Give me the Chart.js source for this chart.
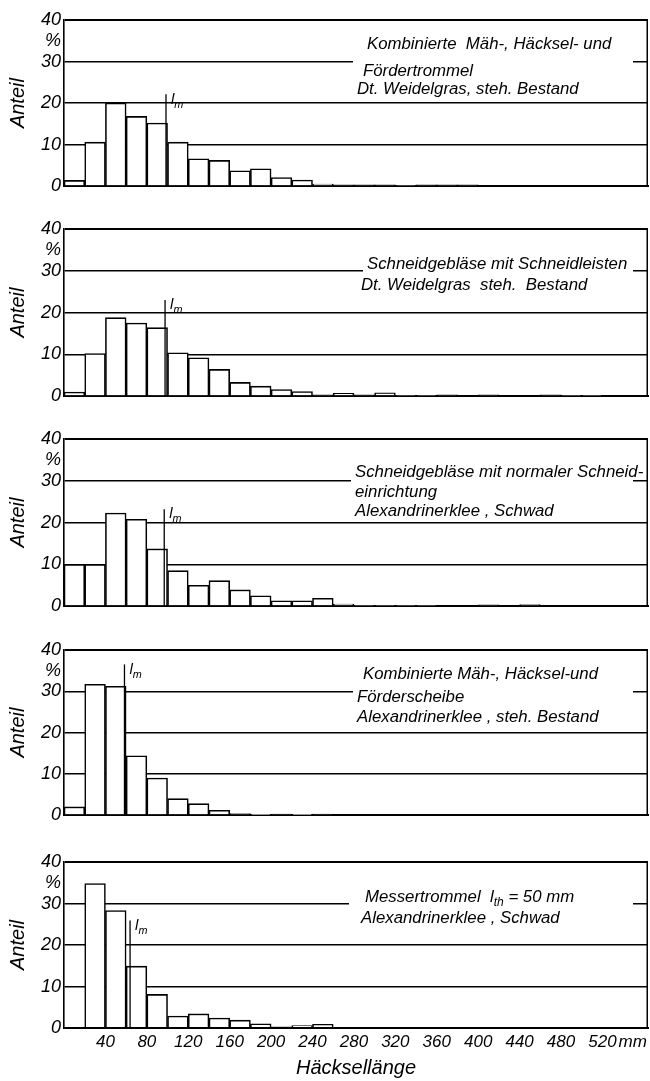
<!DOCTYPE html>
<html>
<head>
<meta charset="utf-8">
<script src="https://cdn.jsdelivr.net/npm/chart.js@4.4.1/dist/chart.umd.min.js"></script>
<style>
html, body { margin: 0; padding: 0; background: #fff; }
#wrap { position: relative; width: 650px; height: 1081px; }
#wrap canvas { position: absolute; left: 0; }
</style>
</head>
<body>
<div id="wrap">
  <canvas id="p1" width="650" height="195" style="top:5px"></canvas>
  <canvas id="p2" width="650" height="196" style="top:214px"></canvas>
  <canvas id="p3" width="650" height="196" style="top:424px"></canvas>
  <canvas id="p4" width="650" height="194" style="top:635px"></canvas>
  <canvas id="p5" width="650" height="234" style="top:847px"></canvas>
</div>
<script>
// Häcksellänge classes of 20 mm, value = class centre
let binMid = [10, 30, 50, 70, 90, 110, 130, 150, 170, 190, 210, 230, 250, 270,
              290, 310, 330, 350, 370, 390, 410, 430, 450, 470, 490, 510, 530, 550];
let xTicks = [40, 80, 120, 160, 200, 240, 280, 320, 360, 400, 440, 480, 520];
let yTicks = [0, 10, 20, 30, 35, 40];

// Anteil in %
let anteil1 = [1.4, 10.6, 20.0, 16.8, 15.2, 10.6, 6.6, 6.2, 3.7, 4.2, 2.1, 1.5, 0.5, 0.3,
               0.3, 0.3, 0.2, 0.3, 0.3, 0.3, 0, 0, 0, 0, 0, 0, 0, 0];
let anteil2 = [1.0, 10.2, 18.8, 17.5, 16.4, 10.4, 9.2, 6.4, 3.3, 2.4, 1.6, 1.1, 0.3, 0.7,
               0.3, 0.8, 0.2, 0.2, 0.3, 0, 0.3, 0, 0, 0.3, 0.2, 0.2, 0, 0];
let anteil3 = [10.0, 10.0, 22.3, 20.8, 13.7, 8.5, 5.0, 6.1, 3.9, 2.5, 1.3, 1.3, 1.9, 0.5,
               0.2, 0.2, 0.2, 0.2, 0, 0, 0.3, 0, 0.4, 0, 0, 0, 0, 0];
let anteil4 = [2.0, 31.7, 31.2, 14.4, 9.0, 4.0, 2.8, 1.2, 0.4, 0.1, 0.3, 0.1, 0.3, 0,
               0, 0, 0, 0, 0, 0, 0, 0, 0, 0, 0, 0, 0, 0];
let anteil5 = [0, 34.8, 28.3, 14.9, 8.1, 2.9, 3.4, 2.4, 1.9, 1.0, 0.3, 0.6, 0.9, 0,
               0, 0, 0, 0, 0, 0, 0, 0, 0, 0, 0, 0, 0, 0];

// mittlere Häcksellänge l_m in mm
let lm = [98.5, 97.6, 96.8, 58.4, 63.8];

let notes1 = ['Kombinierte  Mäh-, Häcksel- und', 'Fördertrommel', 'Dt. Weidelgras, steh. Bestand'];
let notes2 = ['Schneidgebläse mit Schneidleisten', 'Dt. Weidelgras  steh.  Bestand'];
let notes3 = ['Schneidgebläse mit normaler Schneid-', 'einrichtung', 'Alexandrinerklee , Schwad'];
let notes4 = ['Kombinierte Mäh-, Häcksel-und', 'Förderscheibe', 'Alexandrinerklee , steh. Bestand'];
let notes5 = [[{ t: 'Messertrommel  l' }, { t: 'th', sub: true }, { t: ' = 50 mm' }], 'Alexandrinerklee , Schwad'];

const FAM = "'Liberation Sans', 'DejaVu Sans', sans-serif";
Chart.defaults.font.family = FAM;
Chart.defaults.color = '#000';

// page layout of each panel (canvas top, note positions)
const canvasTop = [5, 214, 424, 635, 847];
const noteX = [[367, 363, 357], [367, 361], [355, 355, 355], [363, 357, 357], [365, 361]];
const noteY = [[44, 71, 89], [264, 285], [472, 492, 511], [674, 697, 717], [897, 918]];
const boxLeft = [353, 363, 351, 353, 349];
const boxRight = 633;
const lmReach = [22.1, 23, 23.2, 36.5, 25.9];

function drawRich(ctx, line, x, y, size) {
  const segs = typeof line === 'string' ? [{ t: line }] : line;
  segs.forEach(s => {
    const fs = s.sub ? size * 0.72 : size;
    ctx.font = 'italic ' + fs + 'px ' + FAM;
    ctx.fillText(s.t, x, s.sub ? y + size * 0.35 : y);
    x += ctx.measureText(s.t).width;
  });
}

const deco = {
  id: 'panelDeco',
  afterDatasetsDraw(chart, args, opts) {
    const ctx = chart.ctx;
    const area = chart.chartArea;
    const xs = chart.scales.x, ys = chart.scales.y;
    const i = opts.idx;
    const off = canvasTop[i];
    ctx.save();
    // right frame line
    ctx.strokeStyle = '#000';
    ctx.lineWidth = 1.5;
    ctx.beginPath();
    ctx.moveTo(area.right - 0.75, area.top);
    ctx.lineTo(area.right - 0.75, area.bottom);
    ctx.stroke();
    // l_m marker
    const lx = xs.getPixelForValue(lm[i]);
    const ly = ys.getPixelForValue(lmReach[i]);
    ctx.lineWidth = 1.3;
    ctx.beginPath();
    ctx.moveTo(lx, ys.getPixelForValue(0));
    ctx.lineTo(lx, ly);
    ctx.stroke();
    ctx.fillStyle = '#000';
    ctx.textBaseline = 'middle';
    ctx.textAlign = 'left';
    drawRich(ctx, [{ t: 'l' }, { t: 'm', sub: true }], lx + 5, ly + 5, 15);
    // note block with white ground
    const ys0 = noteY[i][0] - off - 11;
    const ys1 = noteY[i][noteY[i].length - 1] - off + 11;
    ctx.fillStyle = '#fff';
    ctx.fillRect(boxLeft[i], ys0, boxRight - boxLeft[i], ys1 - ys0);
    ctx.fillStyle = '#000';
    opts.notes.forEach((line, k) => drawRich(ctx, line, noteX[i][k], noteY[i][k] - off, 16.8));
    // unit after last tick label
    if (i === 4) {
      ctx.font = 'italic 17px ' + FAM;
      const px = xs.getPixelForValue(520) + ctx.measureText('520').width / 2 + 2;
      ctx.fillText('mm', px, 1042 - off);
    }
    ctx.restore();
  }
};

function makePanel(id, values, notes, idx) {
  const last = idx === 4;
  return new Chart(document.getElementById(id), {
    type: 'bar',
    data: {
      labels: binMid,
      datasets: [{
        data: values,
        backgroundColor: '#fff',
        borderColor: '#000',
        borderWidth: 1.6,
        categoryPercentage: 1,
        barPercentage: 1
      }]
    },
    options: {
      responsive: false,
      animation: false,
      layout: { padding: { top: 15, right: 2, bottom: last ? 0 : 12, left: 0 } },
      plugins: {
        legend: { display: false },
        tooltip: { enabled: false },
        panelDeco: { idx: idx, notes: notes }
      },
      scales: {
        x: {
          type: 'linear',
          min: 0,
          max: 564,
          offset: false,
          grid: { display: false, drawTicks: false, offset: false },
          border: { display: true, color: '#000', width: 2 },
          afterBuildTicks: s => { s.ticks = xTicks.map(v => ({ value: v })); },
          afterFit: s => { s.height = last ? 53 : 0; },
          ticks: {
            display: last,
            padding: 4,
            maxRotation: 0,
            autoSkip: false,
            font: { size: 17, style: 'italic' },
            callback: v => String(v)
          },
          title: {
            display: last,
            text: 'Häcksellänge',
            font: { size: 20, style: 'italic' },
            padding: { top: 0, bottom: 1 }
          }
        },
        y: {
          min: 0,
          max: 40,
          afterBuildTicks: s => { s.ticks = yTicks.map(v => ({ value: v })); },
          afterFit: s => { s.width = 64; },
          grid: {
            drawTicks: false,
            color: c => (c.tick && c.tick.value === 35) ? 'rgba(0,0,0,0)' : '#000',
            lineWidth: c => (c.tick && (c.tick.value === 0 || c.tick.value === 40)) ? 2 : 1.6
          },
          border: { display: true, color: '#000', width: 1.6 },
          ticks: {
            padding: 3,
            font: { size: 18, style: 'italic' },
            callback: v => v === 35 ? '%' : String(v)
          },
          title: {
            display: true,
            text: 'Anteil',
            font: { size: 20, style: 'italic' },
            padding: { top: 6, bottom: 0 }
          }
        }
      }
    },
    plugins: [deco]
  });
}

let chart1 = makePanel('p1', anteil1, notes1, 0);
let chart2 = makePanel('p2', anteil2, notes2, 1);
let chart3 = makePanel('p3', anteil3, notes3, 2);
let chart4 = makePanel('p4', anteil4, notes4, 3);
let chart5 = makePanel('p5', anteil5, notes5, 4);
</script>
</body>
</html>
